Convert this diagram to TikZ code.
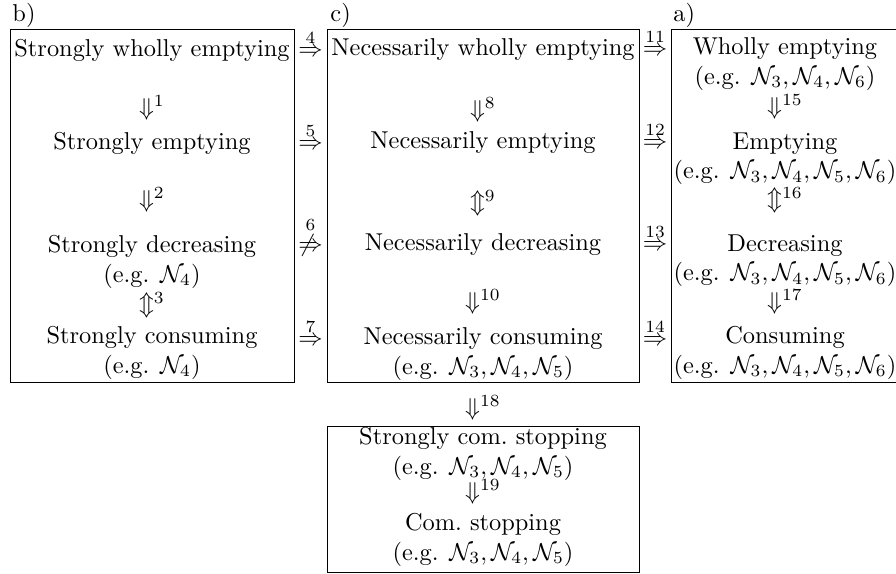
\documentclass[tikz,border=0pt]{standalone}
\usepackage{amsmath,amssymb}
\begin{document}
\begin{tikzpicture}[x=0.41pt,y=-0.41pt,
  txt/.style={inner sep=0pt, anchor=center, align=center},
  imp/.style={inner sep=0pt, anchor=base},
  lbl/.style={inner sep=0pt, anchor=base west},
  frame/.style={draw, line width=0.4pt}]
\useasboundingbox (0,0) rectangle (896,574);
% frames
\draw[frame] (10,29.5) rectangle (294,382);
\draw[frame] (327,29.5) rectangle (639,382);
\draw[frame] (671,29.5) rectangle (899,382);
\draw[frame] (327,426) rectangle (639,572);
% labels
\node[lbl] (lb) at (12,22) {b)};
\node[lbl] (lc) at (330,22) {c)};
\node[lbl] (la) at (673,22) {a)};
% column b
\node[txt] (b1) at (152,50) {Strongly wholly emptying};
\node[txt] (i1) at (152,108) {$\Downarrow^{1}$};
\node[txt] (b2) at (152,143) {Strongly emptying};
\node[txt] (i2) at (152,200) {$\Downarrow^{2}$};
\node[txt] (b3) at (152,262) {Strongly decreasing\\(e.g. $\mathcal{N}_4$)};
\node[txt] (i3) at (152,305) {$\Updownarrow^{3}$};
\node[txt] (b4) at (152,353) {Strongly consuming\\(e.g. $\mathcal{N}_4$)};
% column c
\node[txt] (c1) at (483,50) {Necessarily wholly emptying};
\node[txt] (i8) at (483,110) {$\Downarrow^{8}$};
\node[txt] (c2) at (483,143) {Necessarily emptying};
\node[txt] (i9) at (483,203) {$\Updownarrow^{9}$};
\node[txt] (c3) at (483,245) {Necessarily decreasing};
\node[txt] (i10) at (483,302) {$\Downarrow^{10}$};
\node[txt] (c4) at (483,354) {Necessarily consuming\\(e.g. $\mathcal{N}_3,\mathcal{N}_4,\mathcal{N}_5$)};
% column a
\node[txt] (a1) at (785,64) {Wholly emptying\\(e.g. $\mathcal{N}_3,\mathcal{N}_4,\mathcal{N}_6$)};
\node[txt] (i15) at (785,107) {$\Downarrow^{15}$};
\node[txt] (a2) at (785,159) {Emptying\\(e.g. $\mathcal{N}_3,\mathcal{N}_4,\mathcal{N}_5,\mathcal{N}_6$)};
\node[txt] (i16) at (785,200) {$\Updownarrow^{16}$};
\node[txt] (a3) at (785,261) {Decreasing\\(e.g. $\mathcal{N}_3,\mathcal{N}_4,\mathcal{N}_5,\mathcal{N}_6$)};
\node[txt] (i17) at (785,302) {$\Downarrow^{17}$};
\node[txt] (a4) at (785,353) {Consuming\\(e.g. $\mathcal{N}_3,\mathcal{N}_4,\mathcal{N}_5,\mathcal{N}_6$)};
% bottom box
\node[txt] (i18) at (483,408) {$\Downarrow^{18}$};
\node[txt] (d1) at (483,454) {Strongly com.\ stopping\\(e.g. $\mathcal{N}_3,\mathcal{N}_4,\mathcal{N}_5$)};
\node[txt] (i19) at (483,492) {$\Downarrow^{19}$};
\node[txt] (d2) at (483,540) {Com.\ stopping\\(e.g. $\mathcal{N}_3,\mathcal{N}_4,\mathcal{N}_5$)};
% between-column implications
\node[imp] (i4) at (310.5,57) {$\stackrel{4}{\Rightarrow}$};
\node[imp] (i5) at (310.5,150) {$\stackrel{5}{\Rightarrow}$};
\node[imp] (i6) at (310.5,252) {$\stackrel{6}{\not\Rightarrow}$};
\node[imp] (i7) at (310.5,346) {$\stackrel{7}{\Rightarrow}$};
\node[imp] (i11) at (655,56) {$\stackrel{11}{\Rightarrow}$};
\node[imp] (i12) at (655,149) {$\stackrel{12}{\Rightarrow}$};
\node[imp] (i13) at (655,251) {$\stackrel{13}{\Rightarrow}$};
\node[imp] (i14) at (655,346) {$\stackrel{14}{\Rightarrow}$};
\end{tikzpicture}
\end{document}
